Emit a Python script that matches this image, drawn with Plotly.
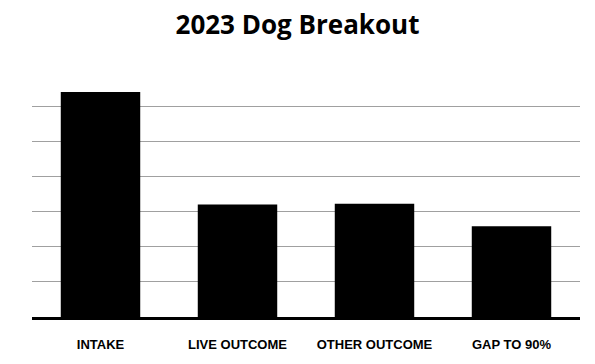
import plotly.graph_objects as go

categories = ["INTAKE", "LIVE OUTCOME", "OTHER OUTCOME", "GAP TO 90%"]
values = [640, 320, 322, 258]
title_text = "2023 Dog Breakout"

fig = go.Figure(go.Bar(
    x=categories, y=values,
    marker=dict(color="black", line=dict(width=0)),
))

fig.update_layout(
    width=595, height=364,
    margin=dict(l=32, r=15, t=71, b=41),
    paper_bgcolor="white", plot_bgcolor="white",
    bargap=0.42,
    showlegend=False,
    title=dict(text="<b>%s</b>" % title_text, x=0.5, xanchor="center",
               y=1 - 25 / 364, yanchor="middle", yref="container",
               font=dict(family="Open Sans", size=26, color="black")),
)
fig.update_xaxes(
    showline=True, linecolor="black", linewidth=3,
    ticks="outside", ticklen=13, tickcolor="rgba(0,0,0,0)",
    tickfont=dict(family="Liberation Sans Narrow, Liberation Sans", size=13, color="black", weight="bold"),
    showgrid=False,
)
fig.update_yaxes(
    range=[0, 700], dtick=100, showticklabels=False,
    showgrid=True, gridcolor="#a0a0a0", gridwidth=1, zeroline=False,
)

fig.write_html("out.html")
